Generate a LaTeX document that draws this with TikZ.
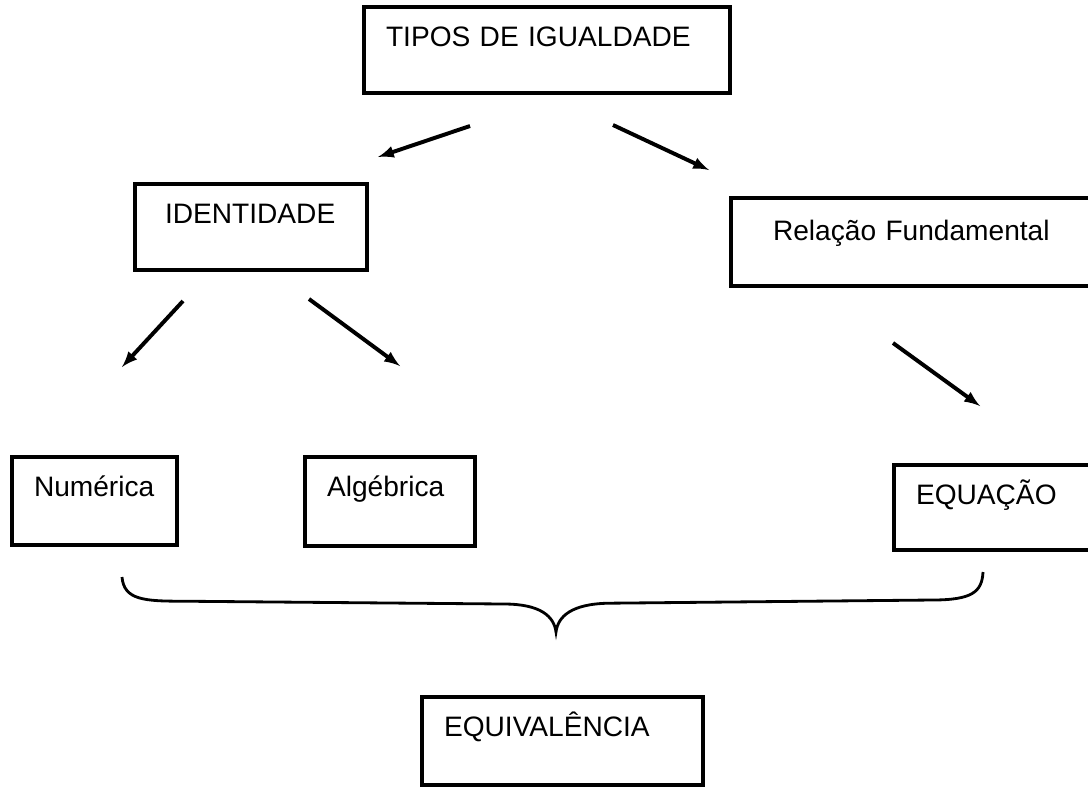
\documentclass[tikz,border=0pt]{standalone}
\usepackage{fontspec}
\setmainfont{Liberation Sans}
\tikzset{>=latex}
\usetikzlibrary{positioning}
\tikzset{caixa/.style={draw, line width=2.8pt, outer sep=0pt, anchor=north west, align=left, inner xsep=0.55cm, inner ysep=0.48cm, text height=0.5cm, font=\fontsize{20pt}{23pt}\selectfont}}

\begin{document}
\begin{tikzpicture}
      \useasboundingbox (0,0) rectangle (27.2,-19.675);
      \node[caixa, text width=8.05cm, text depth=0.69cm] (n0) at (9.1,-0.175) {TIPOS DE IGUALDADE};
      \node[caixa, inner xsep=0.75cm, text width=4.3cm, text depth=0.69cm] (n1) at (3.375,-4.6) {IDENTIDADE};
      \node[caixa, inner xsep=1.05cm, inner ysep=0.55cm, text width=7.6cm, text depth=0.6cm] (n2) at (18.275,-4.95) {Relação Fundamental};
      \node[caixa, text width=3.025cm, text depth=0.74cm] (n11) at (0.3,-11.425) {Numérica};
      \node[caixa, text width=3.15cm, text depth=0.765cm] (n12) at (7.625,-11.425) {Algébrica};
      \node[caixa, text width=4.55cm, text depth=0.665cm] (n21) at (22.35,-11.625) {EQUAÇÃO};
      \node[caixa, text width=5.925cm, text depth=0.74cm] (n3) at (10.55,-17.425) {EQUIVALÊNCIA};
      \coordinate (aux1) at (11.75,-3.15);
      \coordinate (aux2) at (9.45,-3.925);
      \coordinate (aux3) at (15.325,-3.125);
      \coordinate (aux4) at (17.725,-4.25);
      \coordinate (aux5) at (4.575,-7.525);
      \coordinate (aux6) at (3.05,-9.175);
      \coordinate (aux7) at (7.725,-7.475);
      \coordinate (aux8) at (10.0,-9.15);
      \coordinate (aux9) at (22.325,-8.575);
      \coordinate (aux10) at (24.5,-10.15);
      \draw[->, line width=2.8pt] (aux1) to (aux2);
      \draw[->, line width=2.8pt] (aux3) to (aux4);
      \draw[->, line width=2.8pt] (aux5) to (aux6);
      \draw[->, line width=2.8pt] (aux7) to (aux8);
      \draw[->, line width=2.8pt] (aux9) to (aux10);
      \draw[line width=2pt] (3.05,-14.425) .. controls (3.1,-15.0) and (3.6,-15.03) .. (4.6,-15.03) -- (12.6,-15.1) .. controls (13.5,-15.1) and (13.85,-15.4) .. (13.9,-15.8) .. controls (13.95,-15.4) and (14.3,-15.1) .. (15.2,-15.08) -- (23.3,-15.0) .. controls (24.3,-15.0) and (24.55,-14.8) .. (24.575,-14.3);
    \end{tikzpicture}
\end{document}
